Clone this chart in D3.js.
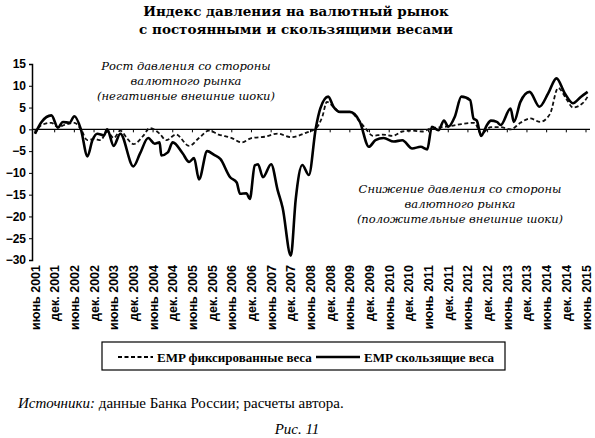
<!DOCTYPE html>
<html><head><meta charset="utf-8">
<script src="https://cdn.jsdelivr.net/npm/d3@7"></script>
<style>body{margin:0;background:#fff}</style>
</head><body>
<svg id="chart" width="595" height="438"></svg>
<script>
// month offset from June 2001
var solidMonths = [0,2,5,7,8.5,10.5,12,14,16,17.5,19,21,22,24,26,30,32,34.5,36.5,38,38.5,40.5,42,45,47,48.5,50,52.5,54.5,56.5,59.5,61.5,62.5,64.5,65.5,67,68,69.5,72,74,75.5,78,79.5,81.5,83.5,85.6,87,89.4,91,93,96,99,101.8,103.8,106.3,109.4,112,115,117.6,119.6,121,123,124.7,126,128,130,132.7,133.7,134.7,136,137.8,139,140.8,142,145,146,148,150.8,153.8,156.5,159,161.5,164,166.5,168.5];
var solidValues = [-1,1.7,3.2,0.4,1.7,1.5,3,0,-6.2,-2.5,-1,-1.4,0,-3.8,-1,-8.5,-5.6,-2,-3.3,-3,-6,-5.3,-3,-5.5,-7.5,-6.6,-11.5,-5,-5.8,-6.8,-11,-12.2,-14.8,-14.7,-16,-8.3,-8,-11,-8,-14,-18,-29,-16,-8.2,-10.5,0.2,4.8,7.5,5.2,4,4,1.8,-4,-2.5,-2,-2.8,-2.5,-4.4,-4,-4.6,0.6,-0.2,2,0.6,2.9,7.5,6.7,2.5,2,-1.5,1,2,1.7,1,4.8,1.7,6.3,8.6,5.2,8.3,11.7,8.3,6,7.5,8.6];
var dashMonths = [0,2,5,7,9,12,14,16,18,20,22,24,26,28,30,33,35,38,40,43,47,50,53,56,60,63,66,70,74,78,82.6,85.6,87.6,89,91,93,96,99,101,103,106,109,112,115,118,121,124,127,130,134,136,139,142,145,148,151,154,157,159.5,162,164,167,168.5];
var dashValues = [-1,1,1.5,0.5,1,1.5,0,-2.5,-2.2,-2.5,-0.5,-2,-0.3,-2,-3.4,-1.5,0.3,-1,-2.5,-1.2,-3.8,-2,-0.3,-1.2,-2,-3,-2,-1.7,-1,-1.8,-0.8,0.2,2.9,6.3,5.2,4,4,1.8,0,-1.5,-1.2,-1.5,-0.5,-0.3,-0.5,0.3,0.5,0.8,1.2,1.5,-1,0.5,0.5,0,1.5,2.5,1.7,3.5,9.5,7,5,6,7.5];
var yTicks = [15,10,5,0,-5,-10,-15,-20,-25,-30];
var xLabels = [];
for (var yr = 2001; yr <= 2015; yr++) {
  xLabels.push("июнь " + yr);
  if (yr < 2015) xLabels.push("дек. " + yr);
}

var svg = d3.select("#chart");
var x = d3.scaleLinear().domain([0,168]).range([35,586]);
var y = d3.scaleLinear().domain([-30,15]).range([260,64]);

var title = svg.append("text").attr("x",296).attr("text-anchor","middle")
  .style("font-family","DejaVu Serif").style("font-weight","bold").style("font-size","13.5px");
title.append("tspan").attr("x",296).attr("y",16).text("Индекс давления на валютный рынок");
title.append("tspan").attr("x",296).attr("y",34).text("с постоянными и скользящими весами");

// y axis
svg.append("g").attr("transform","translate(32,0)")
  .call(d3.axisLeft(y).tickValues(yTicks).tickSize(3).tickFormat(function(d){return d<0?"\u2212"+(-d):d;}))
  .call(function(g){g.select(".domain").attr("stroke","#000").attr("stroke-width",1.5);})
  .selectAll("text").style("font-family","Liberation Sans").style("font-weight","bold").style("font-size","12px").attr("fill","#000");

// zero line with ticks
svg.append("line").attr("x1",32).attr("x2",590).attr("y1",y(0)).attr("y2",y(0))
  .attr("stroke","#000").attr("stroke-width",1.3);
svg.append("g").selectAll("line").data(xLabels).join("line")
  .attr("x1",function(d,i){return x(i*6);}).attr("x2",function(d,i){return x(i*6);})
  .attr("y1",y(0)).attr("y2",y(0)+3).attr("stroke","#000");

// x labels
svg.append("g").selectAll("text").data(xLabels).join("text")
  .attr("transform",function(d,i){return "translate("+(x(i*6)+4.5)+",265) rotate(-90)";})
  .attr("text-anchor","end")
  .style("font-family","Liberation Sans Narrow, Liberation Sans").style("font-weight","bold").style("font-size","12.5px")
  .text(function(d){return d;});

var line = d3.line().curve(d3.curveMonotoneX);
var solidPts = solidMonths.map(function(m,i){return [x(m),y(solidValues[i])];});
var dashPts = dashMonths.map(function(m,i){return [x(m),y(dashValues[i])];});
svg.append("path").attr("d",line(dashPts)).attr("fill","none").attr("stroke","#111")
  .attr("stroke-width",1.8).attr("stroke-dasharray","4,2.5");
svg.append("path").attr("d",line(solidPts)).attr("fill","none").attr("stroke","#000")
  .attr("stroke-width",2.6).attr("stroke-linejoin","round");

function note(cx, y0, lines) {
  svg.append("g").selectAll("text").data(lines).join("text")
    .attr("x",cx).attr("y",function(d,i){return y0+i*15;}).attr("text-anchor","middle")
    .style("font-family","DejaVu Serif").style("font-style","italic").style("font-size","11.5px")
    .text(function(d){return d;});
}
note(186,70,["Рост давления со стороны","валютного рынка","(негативные внешние шоки)"]);
note(460,193,["Снижение давления со стороны","валютного рынка","(положительные внешние шоки)"]);

// legend
svg.append("rect").attr("x",102).attr("y",342).attr("width",403).attr("height",28)
  .attr("fill","#fff").attr("stroke","#000").attr("stroke-width",1.2);
svg.append("line").attr("x1",118).attr("x2",153).attr("y1",357).attr("y2",357)
  .attr("stroke","#000").attr("stroke-width",1.8).attr("stroke-dasharray","4,2.5");
svg.append("line").attr("x1",316).attr("x2",360).attr("y1",357).attr("y2",357)
  .attr("stroke","#000").attr("stroke-width",2.6);
svg.append("g").selectAll("text").data([["EMP фиксированные веса",157],["EMP скользящие веса",364]]).join("text")
  .attr("x",function(d){return d[1];}).attr("y",361.5)
  .style("font-family","Liberation Serif").style("font-weight","bold").style("font-size","13px").text(function(d){return d[0];});

var src = svg.append("text").attr("x",18).attr("y",408)
  .style("font-family","Liberation Serif").style("font-size","15px");
src.append("tspan").style("font-style","italic").text("Источники:");
src.append("tspan").text(" данные Банка России; расчеты автора.");
svg.append("text").attr("x",297).attr("y",434).attr("text-anchor","middle")
  .style("font-family","Liberation Serif").style("font-style","italic").style("font-size","15px").text("Рис. 11");
</script>
</body></html>
